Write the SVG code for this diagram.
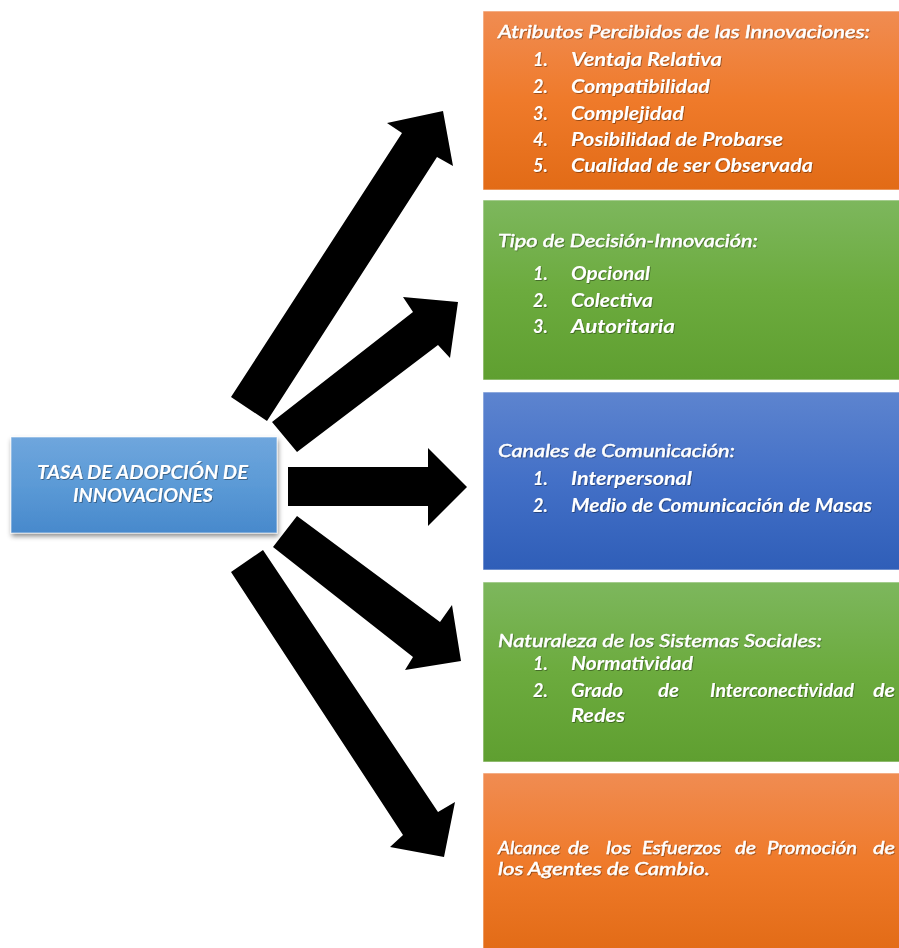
<svg xmlns="http://www.w3.org/2000/svg" width="899" height="948" viewBox="0 0 899 948">
<defs>
<linearGradient id="gOrange" x1="0" y1="0" x2="0" y2="1"><stop offset="0" stop-color="#F08C52"/><stop offset="0.5" stop-color="#EF7A2A"/><stop offset="1" stop-color="#E26B16"/></linearGradient>
<linearGradient id="gGreen" x1="0" y1="0" x2="0" y2="1"><stop offset="0" stop-color="#7DB75D"/><stop offset="0.5" stop-color="#6CAB3E"/><stop offset="1" stop-color="#5F9F30"/></linearGradient>
<linearGradient id="gBlue" x1="0" y1="0" x2="0" y2="1"><stop offset="0" stop-color="#5D84CF"/><stop offset="0.5" stop-color="#4370C7"/><stop offset="1" stop-color="#2F5EB8"/></linearGradient>
<linearGradient id="gLight" x1="0" y1="0" x2="0" y2="1"><stop offset="0" stop-color="#6FA6DD"/><stop offset="0.5" stop-color="#5B9AD6"/><stop offset="1" stop-color="#4889CC"/></linearGradient>
<filter id="boxShadow" x="-10%" y="-10%" width="125%" height="130%"><feDropShadow dx="1" dy="3" stdDeviation="2.5" flood-color="#000" flood-opacity="0.45"/></filter>
<filter id="txtShadow" x="-5%" y="-20%" width="110%" height="150%"><feDropShadow dx="0.8" dy="0.8" stdDeviation="0.7" flood-color="#000" flood-opacity="0.45"/></filter>
</defs>
<style>
.box{stroke:#FFFFFF;stroke-opacity:0.6;stroke-width:1}
.t{font-family:Lato,"Liberation Sans",sans-serif;font-style:italic;fill:#FFFFFF;font-size:18px}
.h{font-weight:normal;stroke:#FFFFFF;stroke-width:0.45}
.b{font-weight:bold}
.arrow{fill:#000000}
</style>
<rect width="899" height="948" fill="#FFFFFF"/>

<g id="connectors">
<polygon class="arrow" points="231,397 402,133 387,123 443,111 453,166 437,157 267,421"/>
<polygon class="arrow" points="272,422 413,312 403,297 458,302 450,358 438,345 297,452"/>
<polygon class="arrow" points="288,467 428,467 428,448 467,487 428,526 428,506 288,506"/>
<polygon class="arrow" points="297,516 440,622 452,605 461,661 405,670 413,657 273,547"/>
<polygon class="arrow" points="263,550 438,812 455,802 444,857 390,847 403,835 231,572"/>
</g>

<g id="node-center">
<rect x="11" y="437" width="266" height="96" fill="url(#gLight)" class="box" filter="url(#boxShadow)"/>
<g filter="url(#txtShadow)">
<text class="t b" x="37" y="479" font-size="17" textLength="211" lengthAdjust="spacingAndGlyphs">TASA DE ADOPCIÓN DE</text>
<text class="t b" x="73" y="502" font-size="17" textLength="140" lengthAdjust="spacingAndGlyphs">INNOVACIONES</text>
</g>
</g>

<g id="node-atributos">
<rect x="483" y="11" width="420" height="179" fill="url(#gOrange)" class="box"/>
<g filter="url(#txtShadow)">
<text class="t h" x="498" y="38" textLength="372" lengthAdjust="spacingAndGlyphs">Atributos Percibidos de las Innovaciones:</text>
<text class="t b" x="533" y="66">1.</text><text class="t b" x="571" y="66" textLength="151" lengthAdjust="spacingAndGlyphs">Ventaja Relativa</text>
<text class="t b" x="533" y="93">2.</text><text class="t b" x="571" y="93" textLength="139" lengthAdjust="spacingAndGlyphs">Compatibilidad</text>
<text class="t b" x="533" y="120">3.</text><text class="t b" x="571" y="120" textLength="113" lengthAdjust="spacingAndGlyphs">Complejidad</text>
<text class="t b" x="533" y="146">4.</text><text class="t b" x="571" y="146" textLength="212" lengthAdjust="spacingAndGlyphs">Posibilidad de Probarse</text>
<text class="t b" x="533" y="172">5.</text><text class="t b" x="571" y="172" textLength="242" lengthAdjust="spacingAndGlyphs">Cualidad de ser Observada</text>
</g>
</g>

<g id="node-decision">
<rect x="483" y="200" width="420" height="180" fill="url(#gGreen)" class="box"/>
<g filter="url(#txtShadow)">
<text class="t h" x="498" y="247" textLength="260" lengthAdjust="spacingAndGlyphs">Tipo de Decisión-Innovación:</text>
<text class="t b" x="533" y="280">1.</text><text class="t b" x="571" y="280" textLength="79" lengthAdjust="spacingAndGlyphs">Opcional</text>
<text class="t b" x="533" y="307">2.</text><text class="t b" x="571" y="307" textLength="82" lengthAdjust="spacingAndGlyphs">Colectiva</text>
<text class="t b" x="533" y="333">3.</text><text class="t b" x="571" y="333" textLength="104" lengthAdjust="spacingAndGlyphs">Autoritaria</text>
</g>
</g>

<g id="node-canales">
<rect x="483" y="392" width="420" height="178" fill="url(#gBlue)" class="box"/>
<g filter="url(#txtShadow)">
<text class="t h" x="498" y="457" textLength="237" lengthAdjust="spacingAndGlyphs">Canales de Comunicación:</text>
<text class="t b" x="533" y="485">1.</text><text class="t b" x="571" y="485" textLength="121" lengthAdjust="spacingAndGlyphs">Interpersonal</text>
<text class="t b" x="533" y="512">2.</text><text class="t b" x="571" y="512" textLength="301" lengthAdjust="spacingAndGlyphs">Medio de Comunicación de Masas</text>
</g>
</g>

<g id="node-naturaleza">
<rect x="483" y="582" width="420" height="180" fill="url(#gGreen)" class="box"/>
<g filter="url(#txtShadow)">
<text class="t h" x="498" y="647" textLength="324" lengthAdjust="spacingAndGlyphs">Naturaleza de los Sistemas Sociales:</text>
<text class="t b" x="533" y="670">1.</text><text class="t b" x="571" y="670" textLength="122" lengthAdjust="spacingAndGlyphs">Normatividad</text>
<text class="t b" x="533" y="697">2.</text>
<text class="t b" x="571" y="697" textLength="52" lengthAdjust="spacingAndGlyphs">Grado</text>
<text class="t b" x="658" y="697" textLength="21" lengthAdjust="spacingAndGlyphs">de</text>
<text class="t b" x="710" y="697" textLength="144" lengthAdjust="spacingAndGlyphs">Interconectividad</text>
<text class="t b" x="873" y="697" textLength="22" lengthAdjust="spacingAndGlyphs">de</text>
<text class="t b" x="571" y="722" textLength="54" lengthAdjust="spacingAndGlyphs">Redes</text>
</g>
</g>

<g id="node-alcance">
<rect x="483" y="773" width="420" height="180" fill="url(#gOrange)" class="box"/>
<g filter="url(#txtShadow)">
<text class="t h" x="498" y="854" textLength="62" lengthAdjust="spacingAndGlyphs">Alcance</text>
<text class="t h" x="568" y="854" textLength="21" lengthAdjust="spacingAndGlyphs">de</text>
<text class="t h" x="606" y="854" textLength="25" lengthAdjust="spacingAndGlyphs">los</text>
<text class="t h" x="642" y="854" textLength="79" lengthAdjust="spacingAndGlyphs">Esfuerzos</text>
<text class="t h" x="735" y="854" textLength="21" lengthAdjust="spacingAndGlyphs">de</text>
<text class="t h" x="767" y="854" textLength="90" lengthAdjust="spacingAndGlyphs">Promoción</text>
<text class="t h" x="873" y="854" textLength="22" lengthAdjust="spacingAndGlyphs">de</text>
<text class="t h" x="498" y="875" textLength="212" lengthAdjust="spacingAndGlyphs">los Agentes de Cambio.</text>
</g>
</g>
</svg>
